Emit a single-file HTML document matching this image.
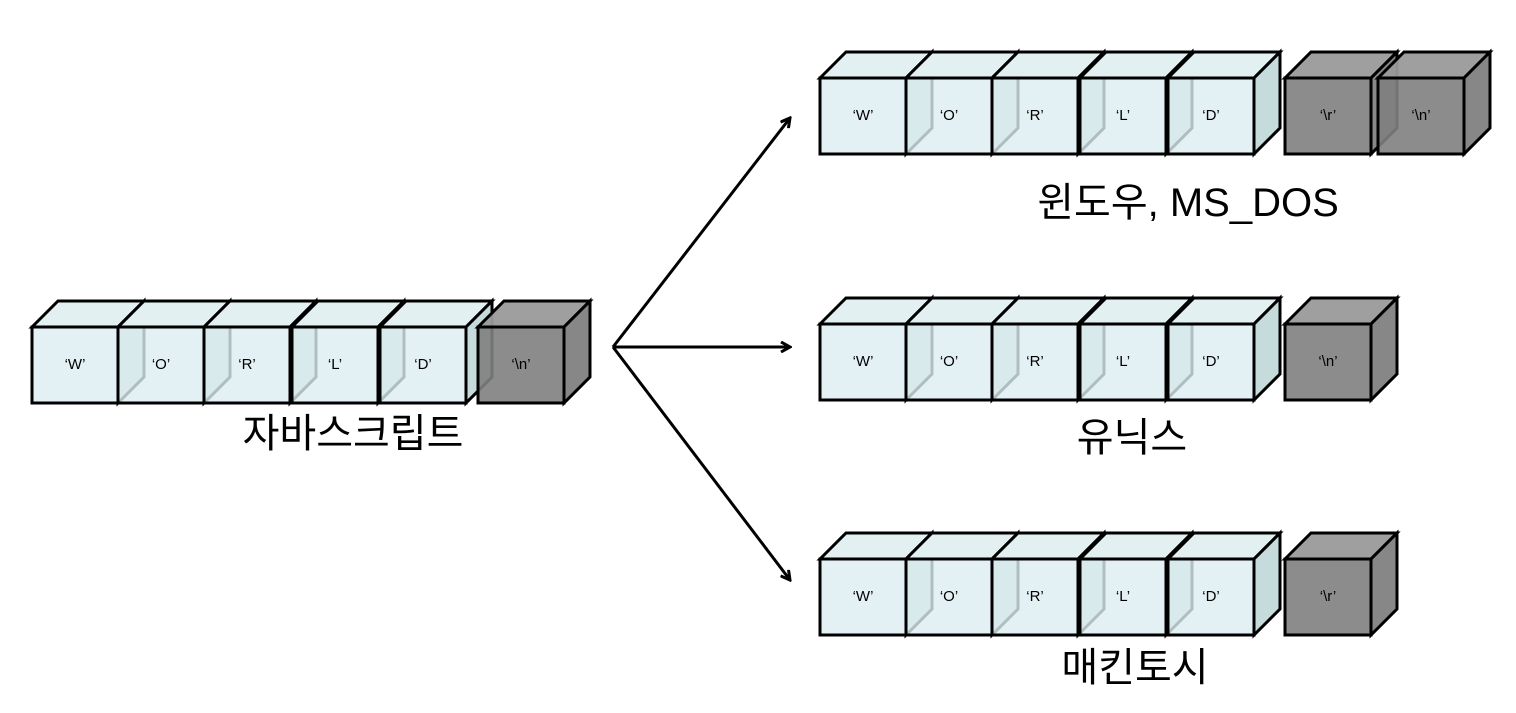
<!DOCTYPE html>
<html><head><meta charset="utf-8"><style>
html,body{margin:0;padding:0;background:#fff;}
svg{display:block}
.t{font-family:"Liberation Sans",Arial,sans-serif;font-size:15px;text-anchor:middle;fill:#000}
.k{font-family:"Liberation Sans","Noto Sans CJK KR","NanumGothic",sans-serif;font-size:40px;text-anchor:middle;fill:#000}
</style></head><body>
<svg width="1516" height="713" viewBox="0 0 1516 713" xmlns="http://www.w3.org/2000/svg">
<defs>
<g id="L" stroke="#000" stroke-width="3" stroke-linejoin="miter">
<polygon points="0,26 26,0 112,0 86,26" fill="#e2f0f2"/>
<polygon points="86,26 112,0 112,76 86,102" fill="#bcd5d6" fill-opacity="0.85"/>
<rect x="0" y="26" width="86" height="76" fill="#ddeef1" fill-opacity="0.8"/>
</g>
<g id="G" stroke="#000" stroke-width="3">
<polygon points="0,26 26,0 112,0 86,26" fill="#9a9a9a" fill-opacity="0.95"/>
<polygon points="86,26 112,0 112,76 86,102" fill="#7a7a7a" fill-opacity="0.9"/>
<rect x="0" y="26" width="86" height="76" fill="#808080" fill-opacity="0.9"/>
</g>
<marker id="a" markerWidth="12" markerHeight="12" refX="10" refY="6" orient="auto" markerUnits="userSpaceOnUse">
<polyline points="1,1 10,6 1,11" fill="none" stroke="#000" stroke-width="3"/>
</marker>
</defs>

<!-- left row -->
<use href="#L" x="32" y="301"/><use href="#L" x="118" y="301"/><use href="#L" x="204" y="301"/><use href="#L" x="292" y="301"/><use href="#L" x="380" y="301"/><use href="#G" x="478" y="301"/>
<text class="t" x="75" y="369">‘W’</text><text class="t" x="161" y="369">‘O’</text><text class="t" x="247" y="369">‘R’</text><text class="t" x="335" y="369">‘L’</text><text class="t" x="423" y="369">‘D’</text><text class="t" x="521" y="369">‘\n’</text>
<text class="k" x="353" y="447">자바스크립트</text>

<!-- row 1 -->
<use href="#L" x="820" y="52"/><use href="#L" x="906" y="52"/><use href="#L" x="992" y="52"/><use href="#L" x="1080" y="52"/><use href="#L" x="1168" y="52"/><use href="#G" x="1285" y="52"/><use href="#G" x="1378" y="52"/>
<text class="t" x="863" y="120">‘W’</text><text class="t" x="949" y="120">‘O’</text><text class="t" x="1035" y="120">‘R’</text><text class="t" x="1123" y="120">‘L’</text><text class="t" x="1211" y="120">‘D’</text><text class="t" x="1328" y="120">‘\r’</text><text class="t" x="1421" y="120">‘\n’</text>
<text class="k" x="1188" y="216">윈도우, MS_DOS</text>

<!-- row 2 -->
<use href="#L" x="820" y="298"/><use href="#L" x="906" y="298"/><use href="#L" x="992" y="298"/><use href="#L" x="1080" y="298"/><use href="#L" x="1168" y="298"/><use href="#G" x="1285" y="298"/>
<text class="t" x="863" y="366">‘W’</text><text class="t" x="949" y="366">‘O’</text><text class="t" x="1035" y="366">‘R’</text><text class="t" x="1123" y="366">‘L’</text><text class="t" x="1211" y="366">‘D’</text><text class="t" x="1328" y="366">‘\n’</text>
<text class="k" x="1132" y="451">유닉스</text>

<!-- row 3 -->
<use href="#L" x="820" y="533"/><use href="#L" x="906" y="533"/><use href="#L" x="992" y="533"/><use href="#L" x="1080" y="533"/><use href="#L" x="1168" y="533"/><use href="#G" x="1285" y="533"/>
<text class="t" x="863" y="601">‘W’</text><text class="t" x="949" y="601">‘O’</text><text class="t" x="1035" y="601">‘R’</text><text class="t" x="1123" y="601">‘L’</text><text class="t" x="1211" y="601">‘D’</text><text class="t" x="1328" y="601">‘\r’</text>
<text class="k" x="1135" y="681">매킨토시</text>

<!-- arrows -->
<g stroke="#000" stroke-width="3" fill="none">
<line x1="613" y1="347" x2="790" y2="118" marker-end="url(#a)"/>
<line x1="613" y1="347" x2="790" y2="347" marker-end="url(#a)"/>
<line x1="613" y1="347" x2="790" y2="580" marker-end="url(#a)"/>
</g>
</svg>
</body></html>
